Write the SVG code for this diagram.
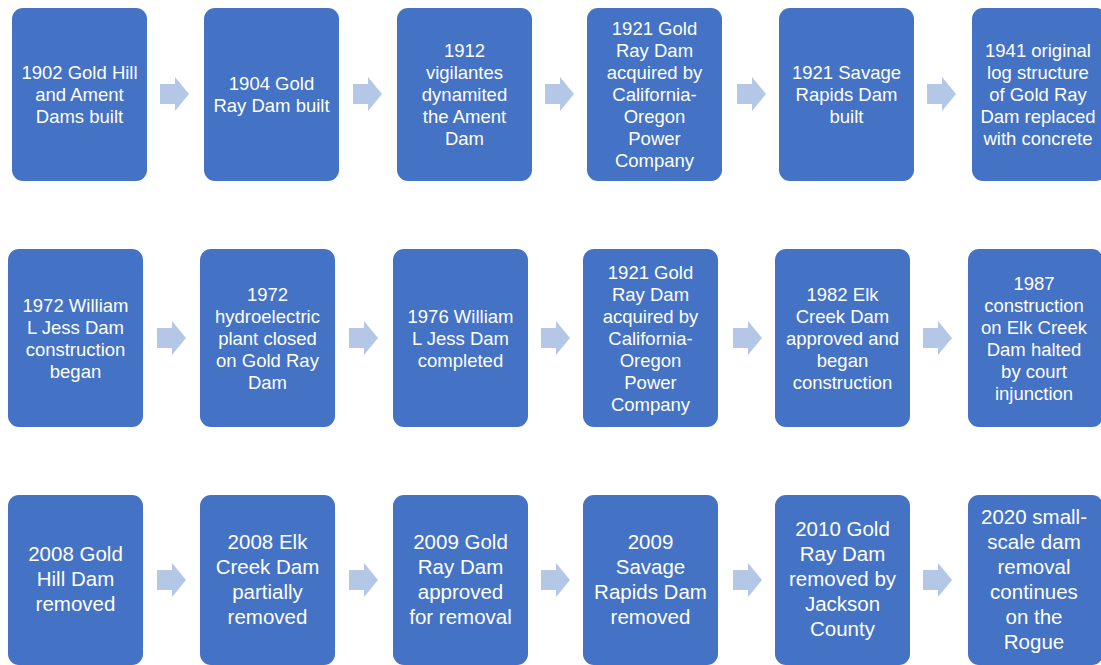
<svg xmlns="http://www.w3.org/2000/svg" xmlns:xlink="http://www.w3.org/1999/xlink" width="1101" height="665" viewBox="0 0 1101 665">
<style>
.box{fill:#4472C4;}
.t{fill:#FFFFFF;font-family:"Liberation Sans",Arial,sans-serif;font-size:18.5px;text-anchor:middle;}
.t3{font-size:20.5px;}
.arr{fill:#B4C7E7;}
</style>
<defs>
<path id="a" d="M0,-10 H15 V-17 L29,0 L15,17 V10 H0 Z"/>
</defs>
<rect width="1101" height="665" fill="#FFFFFF"/>
<g id="connectors" class="arr">
<use xlink:href="#a" href="#a" x="160" y="94"/>
<use xlink:href="#a" href="#a" x="353" y="94"/>
<use xlink:href="#a" href="#a" x="545" y="94"/>
<use xlink:href="#a" href="#a" x="737" y="94"/>
<use xlink:href="#a" href="#a" x="927" y="94"/>
<use xlink:href="#a" href="#a" x="157" y="338"/>
<use xlink:href="#a" href="#a" x="349" y="338"/>
<use xlink:href="#a" href="#a" x="541" y="338"/>
<use xlink:href="#a" href="#a" x="733" y="338"/>
<use xlink:href="#a" href="#a" x="923" y="338"/>
<use xlink:href="#a" href="#a" x="157" y="580"/>
<use xlink:href="#a" href="#a" x="349" y="580"/>
<use xlink:href="#a" href="#a" x="541" y="580"/>
<use xlink:href="#a" href="#a" x="733" y="580"/>
<use xlink:href="#a" href="#a" x="923" y="580"/>
</g>
<g id="n1"><rect class="box" x="12" y="8" width="135" height="173" rx="11"/>
<text class="t" y="78.5"><tspan x="79.5">1902 Gold Hill</tspan><tspan x="79.5" dy="22">and Ament</tspan><tspan x="79.5" dy="22">Dams built</tspan></text></g>
<g id="n2"><rect class="box" x="204" y="8" width="135" height="173" rx="11"/>
<text class="t" y="89.5"><tspan x="271.5">1904 Gold</tspan><tspan x="271.5" dy="22">Ray Dam built</tspan></text></g>
<g id="n3"><rect class="box" x="397" y="8" width="135" height="173" rx="11"/>
<text class="t" y="56.5"><tspan x="464.5">1912</tspan><tspan x="464.5" dy="22">vigilantes</tspan><tspan x="464.5" dy="22">dynamited</tspan><tspan x="464.5" dy="22">the Ament</tspan><tspan x="464.5" dy="22">Dam</tspan></text></g>
<g id="n4"><rect class="box" x="587" y="8" width="135" height="173" rx="11"/>
<text class="t" y="34.5"><tspan x="654.5">1921 Gold</tspan><tspan x="654.5" dy="22">Ray Dam</tspan><tspan x="654.5" dy="22">acquired by</tspan><tspan x="654.5" dy="22">California-</tspan><tspan x="654.5" dy="22">Oregon</tspan><tspan x="654.5" dy="22">Power</tspan><tspan x="654.5" dy="22">Company</tspan></text></g>
<g id="n5"><rect class="box" x="779" y="8" width="135" height="173" rx="11"/>
<text class="t" y="78.5"><tspan x="846.5">1921 Savage</tspan><tspan x="846.5" dy="22">Rapids Dam</tspan><tspan x="846.5" dy="22">built</tspan></text></g>
<g id="n6"><rect class="box" x="972" y="8" width="135" height="173" rx="11"/>
<text class="t" y="56.5"><tspan x="1038">1941 original</tspan><tspan x="1038" dy="22">log structure</tspan><tspan x="1038" dy="22">of Gold Ray</tspan><tspan x="1038" dy="22">Dam replaced</tspan><tspan x="1038" dy="22">with concrete</tspan></text></g>
<g id="n7"><rect class="box" x="8" y="249" width="135" height="178" rx="11"/>
<text class="t" y="311.5"><tspan x="75.5">1972 William</tspan><tspan x="75.5" dy="22">L Jess Dam</tspan><tspan x="75.5" dy="22">construction</tspan><tspan x="75.5" dy="22">began</tspan></text></g>
<g id="n8"><rect class="box" x="200" y="249" width="135" height="178" rx="11"/>
<text class="t" y="300.5"><tspan x="267.5">1972</tspan><tspan x="267.5" dy="22">hydroelectric</tspan><tspan x="267.5" dy="22">plant closed</tspan><tspan x="267.5" dy="22">on Gold Ray</tspan><tspan x="267.5" dy="22">Dam</tspan></text></g>
<g id="n9"><rect class="box" x="393" y="249" width="135" height="178" rx="11"/>
<text class="t" y="322.5"><tspan x="460.5">1976 William</tspan><tspan x="460.5" dy="22">L Jess Dam</tspan><tspan x="460.5" dy="22">completed</tspan></text></g>
<g id="n10"><rect class="box" x="583" y="249" width="135" height="178" rx="11"/>
<text class="t" y="278.5"><tspan x="650.5">1921 Gold</tspan><tspan x="650.5" dy="22">Ray Dam</tspan><tspan x="650.5" dy="22">acquired by</tspan><tspan x="650.5" dy="22">California-</tspan><tspan x="650.5" dy="22">Oregon</tspan><tspan x="650.5" dy="22">Power</tspan><tspan x="650.5" dy="22">Company</tspan></text></g>
<g id="n11"><rect class="box" x="775" y="249" width="135" height="178" rx="11"/>
<text class="t" y="300.5"><tspan x="842.5">1982 Elk</tspan><tspan x="842.5" dy="22">Creek Dam</tspan><tspan x="842.5" dy="22">approved and</tspan><tspan x="842.5" dy="22">began</tspan><tspan x="842.5" dy="22">construction</tspan></text></g>
<g id="n12"><rect class="box" x="968" y="249" width="135" height="178" rx="11"/>
<text class="t" y="289.5"><tspan x="1034">1987</tspan><tspan x="1034" dy="22">construction</tspan><tspan x="1034" dy="22">on Elk Creek</tspan><tspan x="1034" dy="22">Dam halted</tspan><tspan x="1034" dy="22">by court</tspan><tspan x="1034" dy="22">injunction</tspan></text></g>
<g id="n13"><rect class="box" x="8" y="495" width="135" height="170" rx="11"/>
<text class="t t3" y="561.3"><tspan x="75.5">2008 Gold</tspan><tspan x="75.5" dy="25">Hill Dam</tspan><tspan x="75.5" dy="25">removed</tspan></text></g>
<g id="n14"><rect class="box" x="200" y="495" width="135" height="170" rx="11"/>
<text class="t t3" y="548.8"><tspan x="267.5">2008 Elk</tspan><tspan x="267.5" dy="25">Creek Dam</tspan><tspan x="267.5" dy="25">partially</tspan><tspan x="267.5" dy="25">removed</tspan></text></g>
<g id="n15"><rect class="box" x="393" y="495" width="135" height="170" rx="11"/>
<text class="t t3" y="548.8"><tspan x="460.5">2009 Gold</tspan><tspan x="460.5" dy="25">Ray Dam</tspan><tspan x="460.5" dy="25">approved</tspan><tspan x="460.5" dy="25">for removal</tspan></text></g>
<g id="n16"><rect class="box" x="583" y="495" width="135" height="170" rx="11"/>
<text class="t t3" y="548.8"><tspan x="650.5">2009</tspan><tspan x="650.5" dy="25">Savage</tspan><tspan x="650.5" dy="25">Rapids Dam</tspan><tspan x="650.5" dy="25">removed</tspan></text></g>
<g id="n17"><rect class="box" x="775" y="495" width="135" height="170" rx="11"/>
<text class="t t3" y="536.3"><tspan x="842.5">2010 Gold</tspan><tspan x="842.5" dy="25">Ray Dam</tspan><tspan x="842.5" dy="25">removed by</tspan><tspan x="842.5" dy="25">Jackson</tspan><tspan x="842.5" dy="25">County</tspan></text></g>
<g id="n18"><rect class="box" x="968" y="495" width="135" height="170" rx="11"/>
<text class="t t3" y="523.8"><tspan x="1034">2020 small-</tspan><tspan x="1034" dy="25">scale dam</tspan><tspan x="1034" dy="25">removal</tspan><tspan x="1034" dy="25">continues</tspan><tspan x="1034" dy="25">on the</tspan><tspan x="1034" dy="25">Rogue</tspan></text></g>
</svg>
